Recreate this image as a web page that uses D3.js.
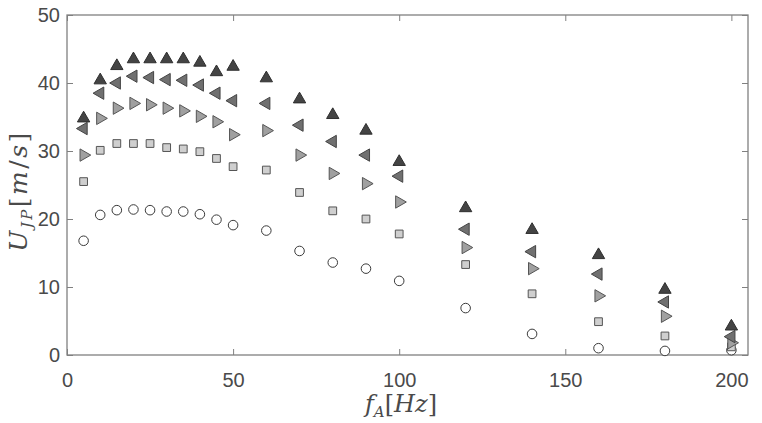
<!DOCTYPE html>
<html><head><meta charset="utf-8">
<script src="https://cdn.jsdelivr.net/npm/d3@7"></script>
<style>body{margin:0;background:#fff}</style>
</head><body>
<svg id="c" width="762" height="423"></svg>
<script>
const freq = [5,10,15,20,25,30,35,40,45,50,60,70,80,90,100,120,140,160,180,200];
const circleVals = [16.8,20.6,21.3,21.4,21.3,21.1,21.1,20.7,19.9,19.1,18.3,15.3,13.6,12.7,10.9,6.9,3.1,1.0,0.6,0.7];
const squareVals = [25.5,30.1,31.1,31.1,31.1,30.5,30.3,29.9,28.9,27.7,27.2,23.9,21.2,20.0,17.8,13.3,9.0,4.9,2.8,1.2];
const rightVals  = [29.4,34.8,36.3,37.0,36.8,36.3,35.9,35.1,34.3,32.4,33.0,29.4,26.7,25.2,22.5,15.8,12.7,8.7,5.7,1.8];
const leftVals   = [33.3,38.5,40.0,41.0,40.8,40.5,40.4,39.7,38.5,37.4,37.0,33.8,31.4,29.4,26.3,18.5,15.2,11.9,7.8,2.7];
const upVals     = [34.8,40.4,42.5,43.5,43.5,43.5,43.5,43.0,41.6,42.4,40.7,37.6,35.3,33.0,28.4,21.6,18.4,14.7,9.6,4.2];
const xTicks = [0,50,100,150,200];
const yTicks = [0,10,20,30,40,50];

const svg = d3.select('#c');
const L = 67, R = 748, T = 15, B = 355;
const x = d3.scaleLinear().domain([0,205]).range([L,R]);
const y = d3.scaleLinear().domain([0,50]).range([B,T]);
const axisCol = '#808080', textCol = '#4a4a4a';

// box
svg.append('rect').attr('x',L).attr('y',T).attr('width',R-L).attr('height',B-T)
  .attr('fill','none').attr('stroke',axisCol).attr('stroke-width',1.3);

function styleAxis(g){
  g.select('.domain').remove();
  g.selectAll('line').attr('stroke',axisCol).attr('stroke-width',1);
  g.selectAll('text').attr('fill',textCol).attr('font-family','Liberation Sans, Arial, sans-serif').attr('font-size',20);
}
svg.append('g').attr('transform',`translate(0,${B})`)
  .call(d3.axisBottom(x).tickValues(xTicks).tickSizeInner(-6).tickSizeOuter(0).tickPadding(18))
  .call(styleAxis);
svg.append('g').attr('transform',`translate(0,${T})`)
  .call(d3.axisTop(x).tickValues(xTicks).tickSizeInner(-6).tickSizeOuter(0).tickFormat(''))
  .call(styleAxis);
svg.append('g').attr('transform',`translate(${L},0)`)
  .call(d3.axisLeft(y).tickValues(yTicks).tickSizeInner(-6).tickSizeOuter(0).tickPadding(7))
  .call(styleAxis);
svg.append('g').attr('transform',`translate(${R},0)`)
  .call(d3.axisRight(y).tickValues(yTicks).tickSizeInner(-6).tickSizeOuter(0).tickFormat(''))
  .call(styleAxis);

// markers
function series(vals, type, size, rot, fill, stroke){
  const sym = d3.symbol().type(type).size(size);
  svg.append('g').selectAll('path').data(freq.map((f,i)=>[f,vals[i]])).join('path')
    .attr('d', sym)
    .attr('transform', d=>`translate(${x(d[0])},${y(d[1])}) rotate(${rot})`)
    .attr('fill', fill).attr('stroke', stroke).attr('stroke-width',1);
}
series(circleVals, d3.symbolCircle, 72, 0, '#ffffff', '#3a3a3a');
series(squareVals, d3.symbolSquare, 60, 0, '#cfcfcf', '#555555');
series(rightVals, d3.symbolTriangle, 66, 90, '#a0a0a0', '#555555');
series(leftVals, d3.symbolTriangle, 66, -90, '#707070', '#444444');
series(upVals, d3.symbolTriangle, 66, 0, '#444444', '#2e2e2e');

// labels
const yl = svg.append('text').attr('transform','translate(27,191) rotate(-90)')
  .attr('text-anchor','middle').attr('fill',textCol).attr('letter-spacing',2.5)
  .attr('font-family','DejaVu Serif, Liberation Serif, serif').attr('font-size',25);
yl.append('tspan').attr('font-style','italic').text('U');
yl.append('tspan').attr('font-style','italic').attr('font-size',15).attr('dy',5).text('JP');
yl.append('tspan').attr('dy',-5).text('[');
yl.append('tspan').attr('font-style','italic').text('m');
yl.append('tspan').text('/');
yl.append('tspan').attr('font-style','italic').text('s');
yl.append('tspan').text(']');

const xl = svg.append('text').attr('x',401).attr('y',412)
  .attr('text-anchor','middle').attr('fill',textCol)
  .attr('font-family','DejaVu Serif, Liberation Serif, serif').attr('font-size',24);
xl.append('tspan').attr('font-style','italic').text('f');
xl.append('tspan').attr('font-style','italic').attr('font-size',15).attr('dy',5).text('A');
xl.append('tspan').attr('dy',-5).text('[');
xl.append('tspan').attr('font-style','italic').text('Hz');
xl.append('tspan').text(']');
</script>
</body></html>
